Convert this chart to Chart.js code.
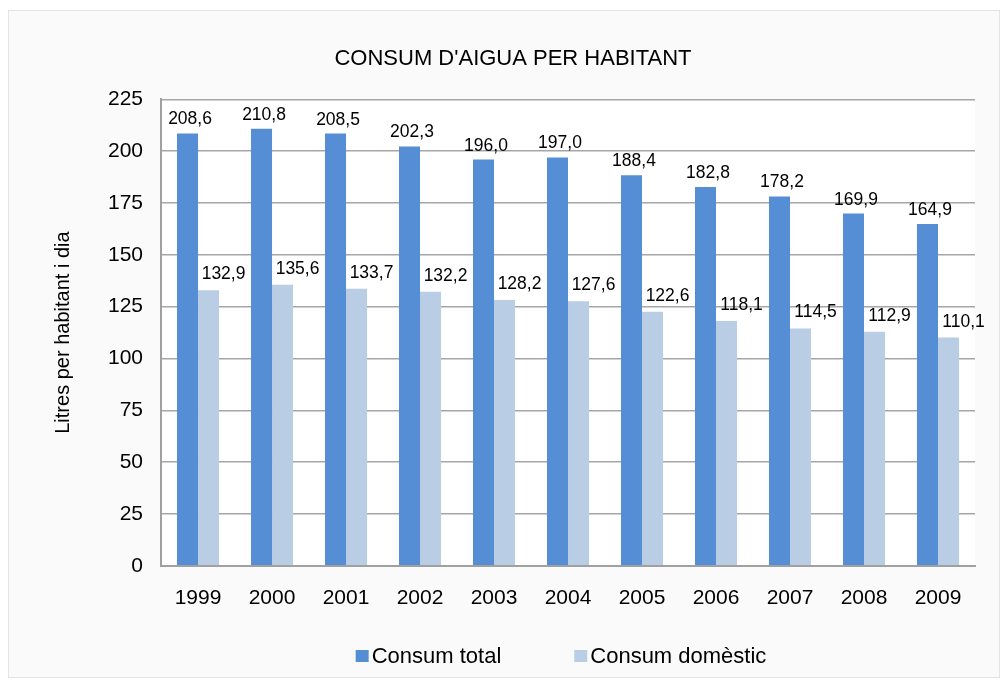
<!DOCTYPE html>
<html><head><meta charset="utf-8">
<script src="https://cdn.jsdelivr.net/npm/chart.js@4.4.1/dist/chart.umd.min.js"></script>
<style>
html,body{margin:0;padding:0;background:#fff;}
#wrap{position:absolute;left:8px;top:10px;width:990px;height:666px;border:1px solid #e4e4e4;background:#fafafa;}
canvas{display:block;}
</style></head><body>
<div id="wrap"><canvas id="c" width="990" height="666"></canvas></div>
<script>
const categories = ['1999','2000','2001','2002','2003','2004','2005','2006','2007','2008','2009'];
const consumTotal = [208.6,210.8,208.5,202.3,196.0,197.0,188.4,182.8,178.2,169.9,164.9];
const consumDomestic = [132.9,135.6,133.7,132.2,128.2,127.6,122.6,118.1,114.5,112.9,110.1];
const yTicks = [0,25,50,75,100,125,150,175,200,225];

const FONT = "'Liberation Sans', Arial, sans-serif";

const bgPlugin = {
  id:'bg',
  beforeDraw(chart){
    const {ctx, chartArea:a} = chart;
    ctx.save(); ctx.fillStyle='#ffffff';
    ctx.fillRect(a.left,a.top,a.right-a.left,a.bottom-a.top);
    ctx.restore();
  }
};
const labelPlugin = {
  id:'labels',
  afterDatasetsDraw(chart){
    const ctx = chart.ctx;
    ctx.save();
    ctx.font = '17.5px ' + FONT;
    ctx.fillStyle = '#000';
    ctx.textAlign='center'; ctx.textBaseline='alphabetic';
    const shifts=[2.5,15], gaps=[9,11];
    chart.data.datasets.forEach((ds,di)=>{
      chart.getDatasetMeta(di).data.forEach((bar,i)=>{
        const txt = ds.data[i].toFixed(1).replace('.',',');
        ctx.fillText(txt, bar.x+shifts[di], bar.y-gaps[di]);
      });
    });
    ctx.restore();
  }
};
const legendPlugin = {
  id:'customLegend',
  afterDraw(chart){
    const ctx = chart.ctx;
    ctx.save();
    ctx.font = '22px ' + FONT;
    ctx.textBaseline='middle'; ctx.textAlign='left';
    const ds = chart.data.datasets;
    const box=13, gapBox=3, gapItem=73;
    const widths = ds.map(d=>ctx.measureText(d.label).width);
    const total = widths.reduce((s,w)=>s+box+gapBox+w,0) + gapItem*(ds.length-1);
    let x = 552 - total/2;
    const y = 645;
    ds.forEach((d,i)=>{
      ctx.fillStyle = d.backgroundColor;
      ctx.fillRect(x, y-6, box, 12);
      ctx.fillStyle = '#000';
      ctx.fillText(d.label, x+box+gapBox, y+1);
      x += box+gapBox+widths[i]+gapItem;
    });
    ctx.restore();
  }
};

new Chart(document.getElementById('c'), {
  type:'bar',
  data:{
    labels:categories,
    datasets:[
      {label:'Consum total', data:consumTotal, backgroundColor:'#558ed5'},
      {label:'Consum domèstic', data:consumDomestic, backgroundColor:'#b9cde5'}
    ]
  },
  options:{
    responsive:false, animation:false,
    datasets:{bar:{categoryPercentage:0.568, barPercentage:1}},
    layout:{padding:{left:42,right:24,top:0,bottom:46}},
    plugins:{
      title:{display:true,text:"CONSUM D'AIGUA PER HABITANT",color:'#000',font:{family:FONT,size:22,weight:'normal'},padding:{top:35,bottom:27}},
      legend:{display:false},
      tooltip:{enabled:false}
    },
    scales:{
      x:{
        grid:{display:false, drawTicks:false},
        border:{color:'#a0a0a0',width:2},
        ticks:{color:'#000',font:{family:FONT,size:21},padding:20}
      },
      y:{
        min:0,max:225,
        afterBuildTicks(axis){axis.ticks = yTicks.map(v=>({value:v}));},
        grid:{color:'#a6a6a6',lineWidth:1.5,drawTicks:false},
        border:{color:'#a0a0a0',width:2},
        ticks:{color:'#000',font:{family:FONT,size:21},padding:18},
        title:{display:true,text:'Litres per habitant i dia',color:'#000',font:{family:FONT,size:20},padding:{top:0,bottom:15}}
      }
    }
  },
  plugins:[bgPlugin,labelPlugin,legendPlugin]
});
</script>
</body></html>
